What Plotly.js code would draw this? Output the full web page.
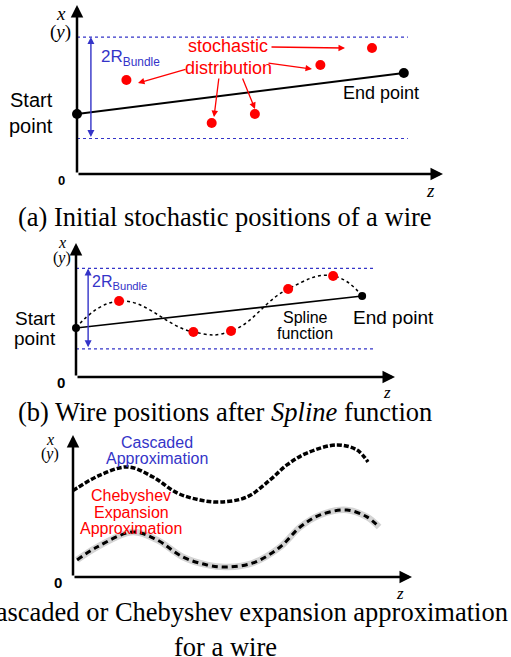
<!DOCTYPE html>
<html>
<head>
<meta charset="utf-8">
<script src="https://cdn.plot.ly/plotly-3.0.1.min.js"></script>
<style>html,body{margin:0;padding:0;background:#fff;}#chart{width:511px;height:657px;}</style>
</head>
<body>
<div id="chart"></div>
<script>
// ---- data (axis units: z and x run 0..10 in each panel) ----
const stochZ = [1.35, 3.68, 4.86, 6.65, 8.06];
const stochXa = [5.56, 3.02, 3.55, 6.45, 7.46];
const stochXb = [5.67, 3.36, 3.43, 6.57, 7.54];
const wireStartXa = 3.55, wireEndZa = 8.93, wireEndXa = 5.98;
const wireStartXb = 3.66, wireEndZb = 8.97, wireEndXb = 6.04;
const bundleBounds = [2.1, 8.1];
const bundleEndZa = 9.04, bundleEndZb = 9.37;
const cascZ = [0.0, 0.12, 0.80, 1.62, 2.36, 3.07, 3.75, 4.34, 5.13, 5.81, 6.31, 6.90, 7.79, 8.38, 8.70];
const cascX = [6.1, 6.27, 7.18, 7.75, 7.04, 5.92, 5.42, 5.28, 5.63, 6.83, 7.89, 8.73, 9.30, 8.94, 8.10];
const chebZ = [0.12, 0.71, 1.77, 2.48, 3.24, 3.95, 4.54, 5.31, 6.11, 6.70, 7.29, 8.08, 8.67, 9.03];
const chebX = [1.20, 2.11, 3.17, 2.61, 1.41, 0.85, 0.70, 0.99, 2.11, 3.52, 4.37, 4.72, 4.23, 3.52];

const SANS = 'Liberation Sans, Arial, sans-serif';
const SERIF = 'Liberation Serif, Times New Roman, serif';
const RED = '#ff0000', BLUE = '#3434c8';
const W = 511, H = 657;
const PX = p => p / W, PY = p => 1 - p / H;
const CAP = 26.5;

const traces = [];
function addPanel(ax, ay, startX, endZ, endX, bundleEnd, lw, endSize) {
  bundleBounds.forEach(b => traces.push({x:[0, bundleEnd], y:[b, b], xaxis:ax, yaxis:ay, mode:'lines',
    line:{color:BLUE, width:1.2, dash:'dot'}, hoverinfo:'skip', cliponaxis:false}));
  traces.push({x:[0, endZ], y:[startX, endX], xaxis:ax, yaxis:ay, mode:'lines+markers',
    line:{color:'#000', width:lw}, marker:{color:'#000', size:endSize}, cliponaxis:false});
}
addPanel('x', 'y', wireStartXa, wireEndZa, wireEndXa, bundleEndZa, 2, 10);
traces.push({x:stochZ, y:stochXa, xaxis:'x', yaxis:'y', mode:'markers', marker:{color:RED, size:10}, cliponaxis:false});

addPanel('x2', 'y2', wireStartXb, wireEndZb, wireEndXb, bundleEndZb, 1.6, 8);
traces.push({x:[0].concat(stochZ, [wireEndZb]), y:[wireStartXb].concat(stochXb, [wireEndXb]),
  xaxis:'x2', yaxis:'y2', mode:'lines', line:{color:'#000', width:1.5, dash:'3px,3px', shape:'spline', smoothing:1.3}, cliponaxis:false});
traces.push({x:stochZ, y:stochXb, xaxis:'x2', yaxis:'y2', mode:'markers', marker:{color:RED, size:10}, cliponaxis:false});

// panel c
traces.push({x:cascZ, y:cascX, xaxis:'x3', yaxis:'y3', mode:'lines',
  line:{color:'#000', width:3.5, dash:'5px,2px', shape:'spline', smoothing:1}, cliponaxis:false});
traces.push({x:chebZ, y:chebX, xaxis:'x3', yaxis:'y3', mode:'lines',
  line:{color:'#d4d4d4', width:6.5, shape:'spline', smoothing:1}, cliponaxis:false});
traces.push({x:chebZ, y:chebX, xaxis:'x3', yaxis:'y3', mode:'lines',
  line:{color:'#000', width:3, dash:'6px,4px', shape:'spline', smoothing:1}, cliponaxis:false});

function axis(domain, anchor) {
  return {domain:domain, range:[0, 10], visible:false, fixedrange:true, anchor:anchor};
}

const ann = [];
function txt(t, x, y, size, color, family) {
  ann.push({text:t, xref:'paper', yref:'paper', x:PX(x), y:PY(y), xanchor:'center', yanchor:'middle',
    showarrow:false, font:{size:size, color:color, family:family}});
}
function axisArrows(xr, yr) {
  ann.push({xref:xr, yref:yr, axref:xr, ayref:yr, x:10, y:0, ax:0, ay:0, text:'', showarrow:true,
    arrowhead:2, arrowsize:1, arrowwidth:2.5, arrowcolor:'#000'});
  ann.push({xref:xr, yref:yr, axref:xr, ayref:yr, x:0, y:10, ax:0, ay:0, text:'', showarrow:true,
    arrowhead:2, arrowsize:1, arrowwidth:2.5, arrowcolor:'#000'});
}
function bundleArrow(xr, yr) {
  ann.push({xref:xr, yref:yr, axref:xr, ayref:yr, x:0.38, y:bundleBounds[1], ax:0.38, ay:bundleBounds[0], text:'',
    showarrow:true, arrowside:'end+start', arrowhead:2, arrowsize:1, arrowwidth:1.4, arrowcolor:BLUE});
}
function redArrow(tx, ty, hx, hy) {
  ann.push({xref:'paper', yref:'paper', x:PX(hx), y:PY(hy), ax:tx - hx, ay:ty - hy, text:'', showarrow:true,
    arrowhead:2, arrowsize:1, arrowwidth:1.3, arrowcolor:RED});
}

// panel a
axisArrows('x', 'y');
bundleArrow('x', 'y');
txt('<i>x</i>', 61, 13, 19, '#000', SERIF);
txt('(<i>y</i>)', 60, 32, 19, '#000', SERIF);
txt('<b>0</b>', 61, 180, 13, '#000', SANS);
txt('<i>z</i>', 430, 191, 19, '#000', SERIF);
txt('2R<sub>Bundle</sub>', 130, 58, 17, BLUE, SANS);
txt('Start', 31, 100, 20, '#000', SANS);
txt('point', 31, 126, 20, '#000', SANS);
txt('End point', 381, 93, 18, '#000', SANS);
redArrow(270, 47, 345, 48);
redArrow(187, 69, 138, 83);
redArrow(267, 63, 312, 69);
redArrow(219, 77, 214, 117);
redArrow(242, 77, 255, 109);
txt('stochastic', 228, 46, 18, RED, SANS);
txt('distribution', 228, 68, 18, RED, SANS);
txt('(a) Initial stochastic positions of a wire', 225, 217, CAP, '#000', SERIF);

// panel b
axisArrows('x2', 'y2');
bundleArrow('x2', 'y2');
txt('<i>x</i>', 62, 243, 16, '#000', SERIF);
txt('(<i>y</i>)', 62, 258, 16, '#000', SERIF);
txt('<b>0</b>', 61, 382, 15, '#000', SANS);
txt('<i>z</i>', 387, 392, 17, '#000', SERIF);
txt('2R<sub>Bundle</sub>', 119, 283, 16, BLUE, SANS);
txt('Start', 35, 319, 19, '#000', SANS);
txt('point', 35, 338, 19, '#000', SANS);
txt('End point', 393, 317, 19, '#000', SANS);
txt('Spline', 305, 317, 16, '#000', SANS);
txt('function', 305, 333, 16, '#000', SANS);
txt('(b) Wire positions after <i>Spline</i> function', 225, 412, CAP, '#000', SERIF);

// panel c
axisArrows('x3', 'y3');
txt('<i>x</i>', 50, 439, 16, '#000', SERIF);
txt('(<i>y</i>)', 50, 454, 16, '#000', SERIF);
txt('<b>0</b>', 58, 582, 15, '#000', SANS);
txt('<i>z</i>', 400, 593, 17, '#000', SERIF);
txt('Cascaded', 157, 442, 16, BLUE, SANS);
txt('Approximation', 157, 458, 16, BLUE, SANS);
txt('Chebyshev', 131, 495, 16, RED, SANS);
txt('Expansion', 131, 512, 16, RED, SANS);
txt('Approximation', 131, 528, 16, RED, SANS);
txt('(c) Cascaded or Chebyshev expansion approximation', 225, 612, CAP, '#000', SERIF);
txt('for a wire', 225, 647, CAP, '#000', SERIF);

const layout = {
  width:W, height:H, margin:{l:0, r:0, t:0, b:0}, showlegend:false,
  paper_bgcolor:'#fff', plot_bgcolor:'rgba(0,0,0,0)',
  xaxis:axis([PX(77), PX(443)], 'y'), yaxis:axis([PY(174), PY(5)], 'x'),
  xaxis2:axis([PX(76), PX(395)], 'y2'), yaxis2:axis([PY(377), PY(243)], 'x2'),
  xaxis3:axis([PX(73), PX(412)], 'y3'), yaxis3:axis([PY(577), PY(435)], 'x3'),
  annotations:ann
};
Plotly.newPlot('chart', traces, layout, {staticPlot:true, displayModeBar:false});
</script>
</body>
</html>
